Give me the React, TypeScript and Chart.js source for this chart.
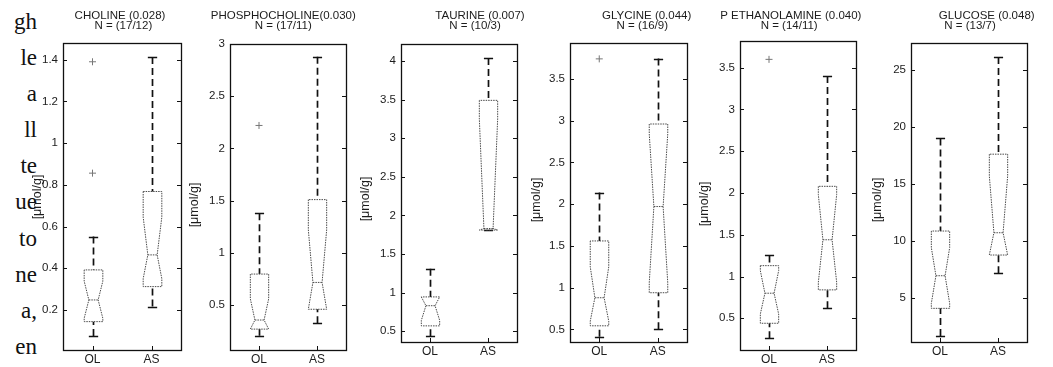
import React, { useEffect, useRef } from 'react';
import { Chart, registerables } from 'chart.js';

Chart.register(...registerables);

// ---------- data ----------
const groups = ['OL', 'AS'];
const metabolites = ['CHOLINE', 'PHOSPHOCHOLINE', 'TAURINE', 'GLYCINE', 'P ETHANOLAMINE', 'GLUCOSE'];
const pValues = [' (0.028)', '(0.030)', ' (0.007)', ' (0.044)', ' (0.040)', ' (0.048)'];
const sampleSizes = ['N = (17/12)', 'N = (17/11)', 'N = (10/3)', 'N = (16/9)', 'N = (14/11)', 'N = (13/7)'];
const unitLabel = '[μmol/g]';

// per panel: [OL, AS]
const whiskerLow = [[0.075, 0.216], [0.206, 0.327], [0.435, 1.81], [0.412, 0.504], [0.26, 0.62], [1.63, 7.14]];
const quartile1 = [[0.144, 0.312], [0.27, 0.46], [0.569, 1.81], [0.544, 0.94], [0.44, 0.84], [4.06, 8.75]];
const notchLow = [[0.16, 0.35], [0.27, 0.46], [0.64, 1.81], [0.6, 1.06], [0.55, 0.93], [4.5, 8.75]];
const medians = [[0.248, 0.464], [0.357, 0.717], [0.83, 1.83], [0.88, 1.972], [0.8, 1.44], [6.93, 10.71]];
const notchHigh = [[0.338, 0.645], [0.56, 1.22], [0.944, 3.25], [1.25, 2.84], [1.07, 1.98], [9.4, 15.7]];
const quartile3 = [[0.392, 0.768], [0.797, 1.51], [0.944, 3.49], [1.56, 2.96], [1.13, 2.08], [10.86, 17.62]];
const whiskerHigh = [[0.552, 1.413], [1.38, 2.877], [1.31, 4.04], [2.14, 3.744], [1.252, 3.4], [19.0, 26.17]];
const outliers = [[[1.39, 0.856], []], [[2.22], []], [[], []], [[3.74], []], [[3.6], []], [[], []]];

const yTickValues = [
  [0.2, 0.4, 0.6, 0.8, 1, 1.2, 1.4],
  [0.5, 1, 1.5, 2, 2.5, 3],
  [0.5, 1, 1.5, 2, 2.5, 3, 3.5, 4],
  [0.5, 1, 1.5, 2, 2.5, 3, 3.5],
  [0.5, 1, 1.5, 2, 2.5, 3, 3.5],
  [5, 10, 15, 20, 25],
];
const yMin = [0.008, 0.07, 0.36, 0.35, 0.12, 1.1];
const yMax = [1.48, 3.0, 4.22, 3.93, 3.82, 27.4];

const pageTextFragments = ['gh', 'le', 'a', 'll', 'te', 'ue', 'to', 'ne', 'a,', 'en'];

// ---------- layout / style ----------
const W = 1053;
const H = 367;
const FONT = '"Liberation Sans", Arial, Helvetica, sans-serif';
const INK = '#1c1c1c';
const Y_AXIS_W = 40;
const X_AXIS_H = 17;

const frames = [
  { left: 63, right: 181, top: 43, bottom: 350, ylabelX: 37.5, ylabelY: 197, titleX: [120, 123.3] },
  { left: 230, right: 346, top: 44, bottom: 350, ylabelX: 195, ylabelY: 205, titleX: [283.3, 283.3] },
  { left: 401, right: 517, top: 44, bottom: 342, ylabelX: 366, ylabelY: 199, titleX: [480, 475] },
  { left: 570, right: 687, top: 43, bottom: 342, ylabelX: 537, ylabelY: 200, titleX: [646.7, 642.3] },
  { left: 740, right: 856, top: 41, bottom: 350, ylabelX: 705, ylabelY: 204, titleX: [790.8, 789.2] },
  { left: 911, right: 1027, top: 43, bottom: 342, ylabelX: 878, ylabelY: 200, titleX: [986.7, 970] },
];

function makePlugin(i: number) {
  const f = frames[i];
  return {
    id: 'notchedBoxes' + i,
    beforeDatasetsDraw(chart: any) {
      const ctx = chart.ctx;
      const xs = chart.scales.x;
      const ys = chart.scales.y;
      const py = (v: number) => ys.getPixelForValue(v);
      const spacing = xs.getPixelForValue(1) - xs.getPixelForValue(0);
      const half = spacing * 0.158;
      const capHalf = half * 0.5;
      groups.forEach((_g, k) => {
        const cx = Math.round(xs.getPixelForValue(k)) + 0.5;
        const q1 = py(quartile1[i][k]);
        const q3 = py(quartile3[i][k]);
        const md = py(medians[i][k]);
        const nl = py(notchLow[i][k]);
        const nh = py(notchHigh[i][k]);
        const wl = py(whiskerLow[i][k]);
        const wh = py(whiskerHigh[i][k]);
        const xL = cx - half;
        const xR = cx + half;
        const nL = cx - half / 2;
        const nR = cx + half / 2;

        ctx.save();
        // whiskers
        ctx.strokeStyle = '#111';
        ctx.lineWidth = 1.7;
        ctx.setLineDash([7, 4]);
        ctx.beginPath();
        if (Math.abs(wh - q3) > 1) {
          ctx.moveTo(cx, wh);
          ctx.lineTo(cx, q3);
        }
        if (Math.abs(wl - q1) > 1) {
          ctx.moveTo(cx, wl);
          ctx.lineTo(cx, q1);
        }
        ctx.stroke();
        // caps
        ctx.setLineDash([]);
        ctx.beginPath();
        ctx.moveTo(cx - capHalf, Math.round(wh) + 0.5);
        ctx.lineTo(cx + capHalf, Math.round(wh) + 0.5);
        ctx.moveTo(cx - capHalf, Math.round(wl) + 0.5);
        ctx.lineTo(cx + capHalf, Math.round(wl) + 0.5);
        ctx.stroke();

        // notched box
        ctx.strokeStyle = '#4a4a4a';
        ctx.lineWidth = 1;
        ctx.setLineDash([1.5, 1]);
        ctx.beginPath();
        ctx.moveTo(xL, q3);
        ctx.lineTo(xL, nh);
        ctx.lineTo(nL, md);
        ctx.lineTo(xL, nl);
        ctx.lineTo(xL, q1);
        ctx.lineTo(xR, q1);
        ctx.lineTo(xR, nl);
        ctx.lineTo(nR, md);
        ctx.lineTo(xR, nh);
        ctx.lineTo(xR, q3);
        ctx.closePath();
        ctx.stroke();
        // median
        ctx.beginPath();
        ctx.moveTo(nL, md);
        ctx.lineTo(nR, md);
        ctx.stroke();
        ctx.restore();
      });
    },
    afterDraw(chart: any) {
      const ctx = chart.ctx;
      const a = chart.chartArea;
      const xs = chart.scales.x;
      const ys = chart.scales.y;
      ctx.save();
      // frame
      ctx.strokeStyle = '#111';
      ctx.lineWidth = 1.3;
      ctx.strokeRect(Math.round(a.left) + 0.5, Math.round(a.top) + 0.5, Math.round(a.right - a.left), Math.round(a.bottom - a.top));
      // inner ticks
      ctx.lineWidth = 1;
      ctx.beginPath();
      yTickValues[i].forEach((v) => {
        const y = Math.round(ys.getPixelForValue(v)) + 0.5;
        ctx.moveTo(a.left, y);
        ctx.lineTo(a.left + 4, y);
        ctx.moveTo(a.right - 4, y);
        ctx.lineTo(a.right, y);
      });
      groups.forEach((_g, k) => {
        const x = Math.round(xs.getPixelForValue(k)) + 0.5;
        ctx.moveTo(x, a.bottom);
        ctx.lineTo(x, a.bottom - 4);
      });
      ctx.stroke();

      // titles
      ctx.fillStyle = INK;
      ctx.font = `11.5px ${FONT}`;
      ctx.textAlign = 'center';
      ctx.textBaseline = 'middle';
      ctx.fillText(metabolites[i] + pValues[i], f.titleX[0], 15.5);
      ctx.fillText(sampleSizes[i], f.titleX[1], 26);

      // y label
      ctx.translate(f.ylabelX, f.ylabelY);
      ctx.rotate(-Math.PI / 2);
      ctx.font = `12.5px ${FONT}`;
      ctx.fillText(unitLabel, 0, 0);
      ctx.restore();
    },
  };
}

function Panel({ index }: { index: number }) {
  const ref = useRef<HTMLCanvasElement | null>(null);
  useEffect(() => {
    const f = frames[index];
    const points = groups.flatMap((g, k) => outliers[index][k].map((y) => ({ x: g, y })));
    const chart = new Chart(ref.current as HTMLCanvasElement, {
      type: 'line',
      data: {
        labels: groups,
        datasets: [
          {
            data: points as any,
            showLine: false,
            pointStyle: 'cross',
            pointRadius: 3.5,
            pointHoverRadius: 3.5,
            pointBorderWidth: 1,
            borderColor: '#777',
            backgroundColor: '#777',
          },
        ],
      },
      options: {
        animation: false,
        responsive: false,
        maintainAspectRatio: false,
        events: [],
        layout: {
          padding: {
            left: f.left - Y_AXIS_W,
            right: W - f.right,
            top: f.top,
            bottom: H - f.bottom - X_AXIS_H,
          },
        },
        plugins: {
          legend: { display: false },
          title: { display: false },
          tooltip: { enabled: false },
        },
        scales: {
          x: {
            type: 'category',
            offset: true,
            grid: { display: false, drawTicks: false },
            border: { display: false },
            ticks: {
              font: { family: FONT, size: 12 },
              color: INK,
              padding: 2,
              maxRotation: 0,
              autoSkip: false,
            },
            afterFit: (s: any) => {
              s.height = X_AXIS_H;
            },
          },
          y: {
            type: 'linear',
            min: yMin[index],
            max: yMax[index],
            grid: { display: false, drawTicks: false },
            border: { display: false },
            afterBuildTicks: (s: any) => {
              s.ticks = yTickValues[index].map((v) => ({ value: v }));
            },
            ticks: {
              font: { family: FONT, size: 11.5 },
              color: INK,
              padding: 5,
              callback: (v: any) => String(v),
            },
            afterFit: (s: any) => {
              s.width = Y_AXIS_W;
            },
          },
        },
      } as any,
      plugins: [makePlugin(index)],
    });
    return () => chart.destroy();
  }, [index]);
  return (
    <canvas
      ref={ref}
      width={W}
      height={H}
      style={{ position: 'absolute', left: 0, top: 0, width: W, height: H }}
    />
  );
}

export default function App() {
  return (
    <div style={{ position: 'fixed', left: 0, top: 0, width: W, height: H, background: '#fff', overflow: 'hidden' }}>
      <div
        style={{
          position: 'absolute',
          left: 0,
          top: 4,
          width: 37,
          textAlign: 'right',
          fontFamily: '"Liberation Serif", "Times New Roman", serif',
          fontSize: 23,
          lineHeight: '36.1px',
          color: '#111',
          whiteSpace: 'nowrap',
        }}
      >
        {pageTextFragments.map((t, k) => (
          <div key={k}>{t}</div>
        ))}
      </div>
      {frames.map((_f, i) => (
        <Panel key={i} index={i} />
      ))}
    </div>
  );
}
